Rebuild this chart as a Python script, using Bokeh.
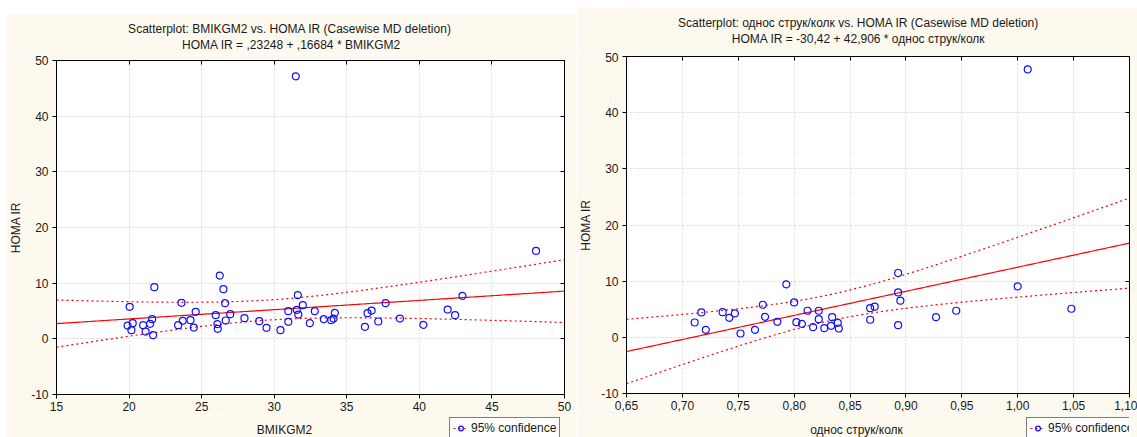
import numpy as np
from bokeh.plotting import figure
from bokeh.models import (Range1d, FixedTicker, LinearAxis, Label, Legend, LegendItem,
                          CustomJSTickFormatter)
from bokeh.layouts import row, column
from bokeh.embed import file_html
from bokeh.resources import INLINE

# ---------------- data ----------------
bmi = [26.25, 21.74, 26.50, 20.04, 23.61, 26.62, 24.59, 25.97, 26.97, 21.59, 20.25, 19.90, 20.16,
       20.97, 21.45, 21.14, 21.66, 23.38, 23.70, 24.23, 24.46, 26.09, 26.11, 26.66, 27.95, 28.97,
       29.47, 30.43, 30.97, 30.97, 31.63, 31.56, 31.66, 31.97, 32.46, 32.80, 33.42, 33.93, 34.18,
       34.09, 48.04, 42.97, 37.68, 36.43, 36.71, 37.17, 36.25, 38.66, 40.28, 41.95, 42.46, 31.49]
homa_bmi = [11.36, 9.28, 8.92, 5.75, 6.46, 6.41, 4.85, 4.25, 4.43, 3.54, 2.82, 2.39, 1.56,
            2.46, 2.69, 1.31, 0.66, 2.46, 3.23, 3.36, 2.03, 2.64, 1.80, 3.29, 3.72, 3.18,
            1.97, 1.56, 3.05, 4.97, 7.85, 5.21, 4.36, 6.05, 2.82, 4.97, 3.54, 3.36, 4.67,
            3.64, 15.80, 7.72, 6.41, 4.61, 5.08, 3.11, 2.15, 3.64, 2.51, 5.26, 4.25, 47.16]

ratio = [0.793, 0.800, 0.772, 0.717, 0.736, 0.747, 0.742, 0.711, 0.721, 0.752, 0.765, 0.774,
         0.785, 0.802, 0.807, 0.812, 0.822, 0.822, 0.817, 0.827, 0.833, 0.834, 0.839, 0.840,
         0.868, 0.872, 0.868, 0.893, 0.893, 0.895, 0.893, 0.927, 0.945, 1.000, 1.048, 1.009]
homa_ratio = [9.43, 6.21, 5.80, 4.43, 4.48, 4.25, 3.48, 2.64, 1.34, 0.68, 1.34, 3.66,
              2.77, 2.70, 2.41, 4.73, 4.73, 3.23, 1.80, 1.63, 2.05, 3.59, 2.59, 1.57,
              5.20, 5.45, 3.13, 11.45, 8.00, 6.52, 2.16, 3.59, 4.73, 9.07, 5.09, 47.7]

BMI_INTERCEPT, BMI_SLOPE = 0.23248, 0.16684
RATIO_INTERCEPT, RATIO_SLOPE = -30.42, 42.906

bmi_ticks = [15, 20, 25, 30, 35, 40, 45, 50]
ratio_ticks = [0.65, 0.70, 0.75, 0.80, 0.85, 0.90, 0.95, 1.00, 1.05, 1.10]
homa_ticks = [-10, 0, 10, 20, 30, 40, 50]

title_bmi = ["Scatterplot: BMIKGM2  vs. HOMA IR (Casewise MD deletion)",
             "HOMA IR = ,23248 + ,16684 * BMIKGM2"]
title_ratio = ["Scatterplot: однос струк/колк vs. HOMA IR (Casewise MD deletion)",
               "HOMA IR = -30,42 + 42,906 * однос струк/колк"]
xlabel_bmi = "BMIKGM2"
xlabel_ratio = "однос струк/колк"
ylabel = "HOMA IR"
legend_label = "95% confidence"

FONT = "Liberation Sans"
CREAM = "#fdf9ef"
TXT = "#1a1a1a"
BLUE = "#1010ff"


def t975(df):
    z = 1.959964
    return z + (z**3 + z) / (4 * df) + (5 * z**5 + 16 * z**3 + 3 * z) / (96 * df**2)


def conf_band(x, y, a, b, x0, x1):
    x = np.asarray(x, float)
    y = np.asarray(y, float)
    n = len(x)
    resid = y - (a + b * x)
    s = np.sqrt(np.sum(resid**2) / (n - 2))
    xbar = x.mean()
    sxx = np.sum((x - xbar) ** 2)
    xs = np.linspace(x0, x1, 200)
    fit = a + b * xs
    half = t975(n - 2) * s * np.sqrt(1.0 / n + (xs - xbar) ** 2 / sxx)
    return xs, fit, fit - half, fit + half


def strip(width, height, right_border):
    # frame of this strip is aligned with the main plot's frame by the column layout
    s = figure(width=width, height=height, x_range=Range1d(0, 1), y_range=Range1d(1000, 1001),
               output_backend="svg", toolbar_location=None, min_border=0,
               min_border_left=50, min_border_right=right_border,
               x_axis_type=None, y_axis_type=None, outline_line_color=None,
               background_fill_color=CREAM, border_fill_color=CREAM)
    s.grid.visible = False
    return s


def txt_label(x, y, text):
    return Label(x=x, y=y, x_units="screen", y_units="screen", text=text,
                 text_font=FONT, text_font_size="12px", text_color=TXT,
                 text_align="center", text_baseline="middle")


def hidden_label_axis(ticks):
    return LinearAxis(ticker=FixedTicker(ticks=ticks), major_label_text_font_size="1px",
                      major_label_text_color=None, major_tick_in=4, major_tick_out=0,
                      major_label_standoff=0, minor_tick_line_color=None,
                      axis_line_color="black", major_tick_line_color="black")


def make_panel(x, y, a, b, xr, xticks, fmt, titles, xlabel, width, right_border,
               top_h, main_h, bot_h, border_top, title_x, title_y, xlabel_pos, legend_pos):
    # --- title strip ---
    t = strip(width, top_h, right_border)
    t.add_layout(txt_label(title_x, title_y[0], titles[0]))
    t.add_layout(txt_label(title_x, title_y[1], titles[1]))

    # --- main plot ---
    p = figure(width=width, height=main_h, x_range=Range1d(*xr), y_range=Range1d(-10, 50),
               output_backend="svg", toolbar_location=None,
               min_border_left=50, min_border_right=right_border, min_border_top=border_top,
               min_border_bottom=21, border_fill_color=CREAM,
               background_fill_color="white", outline_line_color="black",
               outline_line_width=1)
    xs, fit, lo, hi = conf_band(x, y, a, b, xr[0], xr[1])
    p.line(xs, fit, color="red", line_width=1.2)
    p.line(xs, lo, color="red", line_width=1.2, line_dash="2 3")
    p.line(xs, hi, color="red", line_width=1.2, line_dash="2 3")
    p.scatter(x, y, marker="circle", size=7, fill_color=None, line_color=BLUE, line_width=1.2)

    for g in (p.xgrid, p.ygrid):
        g.grid_line_color = "#d8d8d8"
        g.grid_line_dash = "2 2"
    p.xgrid.ticker = FixedTicker(ticks=xticks)
    p.ygrid.ticker = FixedTicker(ticks=homa_ticks)

    p.xaxis.ticker = FixedTicker(ticks=xticks)
    if fmt is not None:
        p.xaxis.formatter = fmt
    p.yaxis.ticker = FixedTicker(ticks=homa_ticks)
    p.yaxis.formatter = CustomJSTickFormatter(code="return tick.toString();")
    for ax in (p.xaxis[0], p.yaxis[0]):
        ax.axis_line_color = "black"
        ax.major_tick_line_color = "black"
        ax.major_tick_out = 4
        ax.major_tick_in = 0
        ax.minor_tick_line_color = None
        ax.major_label_text_font = FONT
        ax.major_label_text_font_size = "12px"
        ax.major_label_text_color = TXT
    p.xaxis.major_label_standoff = 3
    p.yaxis.major_label_standoff = 4
    p.yaxis.axis_label = ylabel
    p.yaxis.axis_label_text_font = FONT
    p.yaxis.axis_label_text_font_size = "12px"
    p.yaxis.axis_label_text_font_style = "normal"
    p.yaxis.axis_label_text_color = TXT
    p.yaxis.axis_label_standoff = 5

    p.add_layout(hidden_label_axis(xticks), "above")
    p.add_layout(hidden_label_axis(homa_ticks), "right")

    # --- x label + legend strip ---
    s = strip(width, bot_h, right_border)
    s.add_layout(txt_label(xlabel_pos[0], xlabel_pos[1], xlabel))
    # legend swatches reuse the real data; the strip's y range keeps them out of view
    leg_line = s.line(xs, hi, color="red", line_width=1.2, line_dash="2 3")
    leg_mark = s.scatter(x, y, marker="circle", size=7, fill_color=None, line_color=BLUE,
                         line_width=1.2)
    leg = Legend(items=[LegendItem(label=legend_label, renderers=[leg_line, leg_mark])],
                 location=legend_pos, border_line_color="black", border_line_width=1,
                 background_fill_color="white", background_fill_alpha=1.0,
                 label_text_font=FONT, label_text_font_size="12px", label_text_color=TXT,
                 padding=3, spacing=0, glyph_width=15, glyph_height=12, label_height=14,
                 label_standoff=3, margin=0)
    s.add_layout(leg)
    return column(t, p, s, spacing=0)


left = make_panel(bmi, homa_bmi, BMI_INTERCEPT, BMI_SLOPE, (15, 50), bmi_ticks, None,
                  title_bmi, xlabel_bmi, 570, 12, 41, 361, 22, 6,
                  235, (25.5, 9.5), (228, 8), (393, -2))
left.margin = (13, 0, 0, 6)

ratio_fmt = CustomJSTickFormatter(code="return tick.toFixed(2).replace('.', ',');")
right = make_panel(ratio, homa_ratio, RATIO_INTERCEPT, RATIO_SLOPE, (0.65, 1.10), ratio_ticks,
                   ratio_fmt, title_ratio, xlabel_ratio, 561, 8, 45, 362, 23, 4,
                   232, (29.5, 13.5), (230, 8), (400, -2))
right.margin = (7, 0, 0, 0)

layout = row(left, right, spacing=0)
open("out.html", "w").write(file_html(layout, INLINE))
